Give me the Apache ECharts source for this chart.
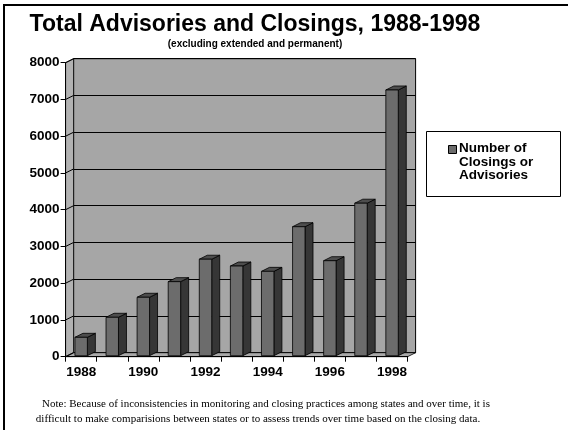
<!DOCTYPE html>
<html><head><meta charset="utf-8">
<script src="https://cdn.jsdelivr.net/npm/echarts@6/dist/echarts.min.js"></script>
<style>html,body{margin:0;padding:0;background:#fff}#c{width:568px;height:430px}</style>
</head><body><div id="c"></div>
<script>
// ---- data ----
const categories = ['1988','1989','1990','1991','1992','1993','1994','1995','1996','1997','1998'];
const values = [500, 1045, 1590, 2015, 2625, 2440, 2295, 3510, 2585, 4150, 7230];
const seriesName = 'Number of\nClosings or\nAdvisories';
const yMin = 0, yMax = 8000, yInterval = 1000;
const titleText = 'Total Advisories and Closings, 1988-1998';
const subtitleText = '(excluding extended and permanent)';
const noteLine1 = 'Note: Because of inconsistencies in monitoring and closing practices among states and over time, it is';
const noteLine2 = 'difficult to make comparisions between states or to assess trends over time based on the closing data.';

// ---- style ----
const DX = 8, DY = 4;
const FONT = '"Liberation Sans", Arial, sans-serif';
const SERIF = '"Liberation Serif", "Times New Roman", serif';
const G = {left: 65.6, top: 62.7, width: 342, height: 294};

const chart = echarts.init(document.getElementById('c'), null, {renderer: 'canvas'});

const wallsSeries = {
  type: 'custom', xAxisIndex: 0, yAxisIndex: 0, clip: false, z: 1, silent: true,
  data: [[0, 0]],
  renderItem: function (params, api) {
    const bw = api.size([1, 0])[0];
    const p0 = api.coord([0, yMin]);
    const xL = p0[0] - bw / 2;
    const xR = api.coord([categories.length - 1, yMin])[0] + bw / 2;
    const y0 = p0[1];
    const yTop = api.coord([0, yMax])[1];
    const ch = [];
    ch.push({type: 'polygon', shape: {points: [[xL, y0], [xL, yTop], [xL + DX, yTop - DY], [xL + DX, y0 - DY]]},
      style: {fill: '#b2b2b2', stroke: '#000', lineWidth: 0.8}});
    ch.push({type: 'polygon', shape: {points: [[xL, y0], [xR, y0], [xR + DX, y0 - DY], [xL + DX, y0 - DY]]},
      style: {fill: '#a9a9a9', stroke: '#000', lineWidth: 0.8}});
    for (let v = yMin; v <= yMax; v += yInterval) {
      const y = api.coord([0, v])[1];
      ch.push({type: 'line', shape: {x1: xL, y1: y, x2: xL + DX, y2: y - DY}, style: {stroke: '#000', lineWidth: 1}});
    }
    return {type: 'group', children: ch};
  }
};

const barsSeries = {
  type: 'custom', name: seriesName, xAxisIndex: 0, yAxisIndex: 0, clip: false, z: 3,
  encode: {x: 0, y: 1},
  data: values.map((v, i) => [i, v]),
  renderItem: function (params, api) {
    const i = api.value(0), v = api.value(1);
    const bw = api.size([1, 0])[0] * 0.4;
    const t = api.coord([i, v]);
    const b = api.coord([i, 0]);
    const xl = t[0] - bw / 2, xr = t[0] + bw / 2;
    const yt = t[1] - 1, yb = b[1] - 1;
    return {type: 'group', children: [
      {type: 'polygon', shape: {points: [[xr, yt], [xr + DX, yt - DY], [xr + DX, yb - DY], [xr, yb]]},
        style: {fill: '#363636', stroke: '#000', lineWidth: 0.8}},
      {type: 'polygon', shape: {points: [[xl, yt], [xr, yt], [xr + DX, yt - DY], [xl + DX, yt - DY]]},
        style: {fill: '#4d4d4d', stroke: '#000', lineWidth: 0.8}},
      {type: 'rect', shape: {x: xl, y: yt, width: bw, height: yb - yt},
        style: {fill: '#6c6c6c', stroke: '#000', lineWidth: 0.8}}
    ]};
  }
};

const option = {
  animation: false,
  backgroundColor: '#fff',
  title: [
    {text: titleText, subtext: subtitleText, left: 255, top: 13, textAlign: 'center', itemGap: 3, padding: 0,
      textStyle: {fontFamily: FONT, fontSize: 23, fontWeight: 'bold', color: '#000'},
      subtextStyle: {fontFamily: FONT, fontSize: 10, fontWeight: 'bold', color: '#000'}},
    {text: noteLine1, left: 266, top: 399, textAlign: 'center', padding: 0,
      textStyle: {fontFamily: SERIF, fontSize: 11, fontWeight: 'normal', color: '#000'}},
    {text: noteLine2, left: 258, top: 414, textAlign: 'center', padding: 0,
      textStyle: {fontFamily: SERIF, fontSize: 11, fontWeight: 'normal', color: '#000'}}
  ],
  grid: [
    Object.assign({outerBoundsMode: 'none', containLabel: false}, G),
    {outerBoundsMode: 'none', containLabel: false, left: G.left + DX, top: G.top - DY, width: G.width, height: G.height,
      show: true, backgroundColor: '#a6a6a6', borderColor: '#000', borderWidth: 1}
  ],
  xAxis: [
    {type: 'category', gridIndex: 0, data: categories, boundaryGap: true,
      axisLine: {show: true, lineStyle: {color: '#000', width: 1}},
      axisTick: {show: true, interval: 0, length: 5, alignWithLabel: false, lineStyle: {color: '#000'}},
      axisLabel: {interval: 1, margin: 9, fontFamily: FONT, fontSize: 13.5, fontWeight: 'bold', color: '#000'},
      splitLine: {show: false}, z: 5},
    {type: 'category', gridIndex: 1, data: categories, show: false}
  ],
  yAxis: [
    {type: 'value', gridIndex: 0, min: yMin, max: yMax, interval: yInterval,
      axisLine: {show: true, lineStyle: {color: '#000', width: 1}},
      axisTick: {show: true, length: 5, lineStyle: {color: '#000'}},
      axisLabel: {margin: 6, formatter: function (v) { return String(v); },
        fontFamily: FONT, fontSize: 13.5, fontWeight: 'bold', color: '#000'},
      splitLine: {show: false}, z: 5},
    {type: 'value', gridIndex: 1, min: yMin, max: yMax, interval: yInterval,
      axisLine: {show: false}, axisTick: {show: false}, axisLabel: {show: false},
      splitLine: {show: true, lineStyle: {color: '#000', width: 1}}}
  ],
  series: [wallsSeries, barsSeries],
  graphic: [
    {type: 'line', shape: {x1: 4, y1: 5, x2: 568, y2: 5}, style: {stroke: '#000', lineWidth: 2}},
    {type: 'line', shape: {x1: 4, y1: 4, x2: 4, y2: 430}, style: {stroke: '#000', lineWidth: 2}},
    {type: 'rect', shape: {x: 426.5, y: 131.5, width: 134, height: 65}, style: {fill: '#fff', stroke: '#000', lineWidth: 1}},
    {type: 'rect', shape: {x: 448.5, y: 145.5, width: 8, height: 8}, style: {fill: '#6c6c6c', stroke: '#000', lineWidth: 1}},
    {type: 'text', x: 459, y: 142, style: {text: seriesName, fontFamily: FONT, fontSize: 13.5, fontWeight: 'bold',
      fill: '#000', lineHeight: 13.5, textVerticalAlign: 'top', verticalAlign: 'top'}}
  ]
};
chart.setOption(option);
</script>
</body></html>
